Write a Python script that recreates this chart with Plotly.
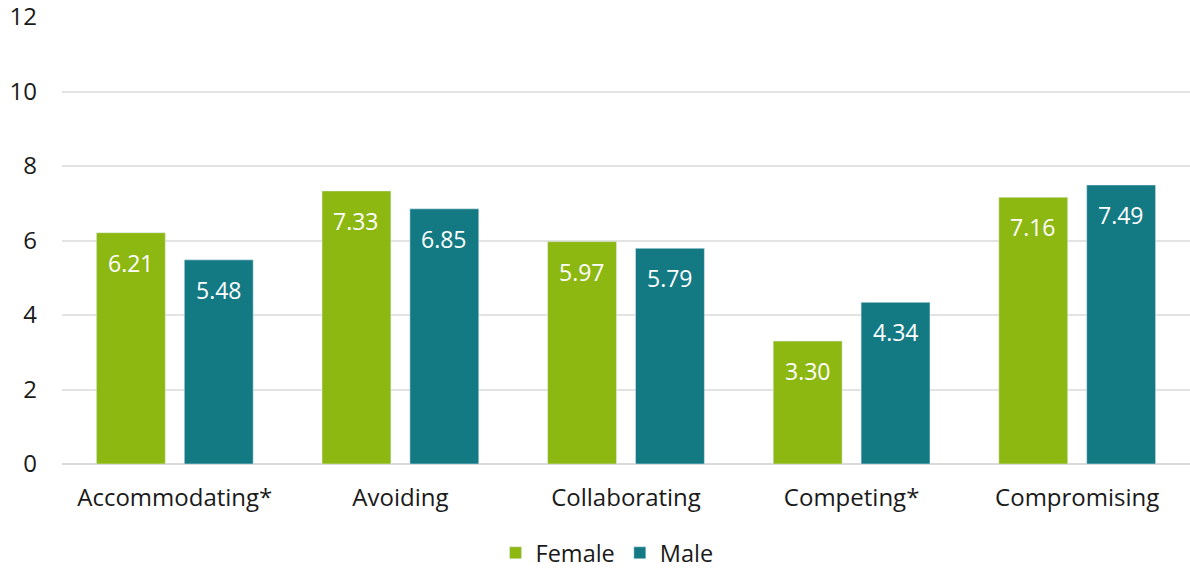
import plotly.graph_objects as go

categories = ["Accommodating*", "Avoiding", "Collaborating", "Competing*", "Compromising"]
female = [6.21, 7.33, 5.97, 3.30, 7.16]
male = [5.48, 6.85, 5.79, 4.34, 7.49]
y_ticks = [0, 2, 4, 6, 8, 10, 12]

FONT = "Open Sans"
GREEN = "#8DB812"
TEAL = "#137A84"

fig = go.Figure()
fig.add_trace(go.Bar(name="Female", x=categories, y=female, marker_color=GREEN))
fig.add_trace(go.Bar(name="Male", x=categories, y=male, marker_color=TEAL))

annotations = []
for series, shift in ((female, -44), (male, 44)):
    for cat, v in zip(categories, series):
        annotations.append(dict(x=cat, y=v, xref="x", yref="y", text=f"{v:.2f}",
                                showarrow=False, xshift=shift, yshift=-30,
                                yanchor="middle", xanchor="center",
                                font=dict(color="white", size=23, family=FONT)))

fig.update_layout(
    width=1190, height=568,
    margin=dict(l=62, r=0, t=17, b=104),
    barmode="group", bargap=0.221, bargroupgap=0.216,
    plot_bgcolor="white", paper_bgcolor="white",
    font=dict(family=FONT, size=24, color="#1a1a1a"),
    annotations=annotations,
    xaxis=dict(showgrid=False, showline=False, ticks="", tickfont=dict(size=24),
               ticklabelstandoff=17, automargin=False),
    yaxis=dict(range=[0, 12], tickvals=y_ticks, showgrid=True, gridcolor="#E3E3E3",
               gridwidth=2, zeroline=True, zerolinecolor="#DADADA", zerolinewidth=2,
               ticks="", ticklabelstandoff=24, tickfont=dict(size=24), automargin=False,
               ticklabeloverflow="allow"),
    legend=dict(orientation="h", x=0.4832, xanchor="center", yref="container",
                y=0.0264, yanchor="middle",
                font=dict(size=23.5), traceorder="normal", itemwidth=30),
)
fig.write_html("out.html", config={"displayModeBar": False},
               post_script="document.body.style.margin='0';document.body.style.overflow='hidden';")
